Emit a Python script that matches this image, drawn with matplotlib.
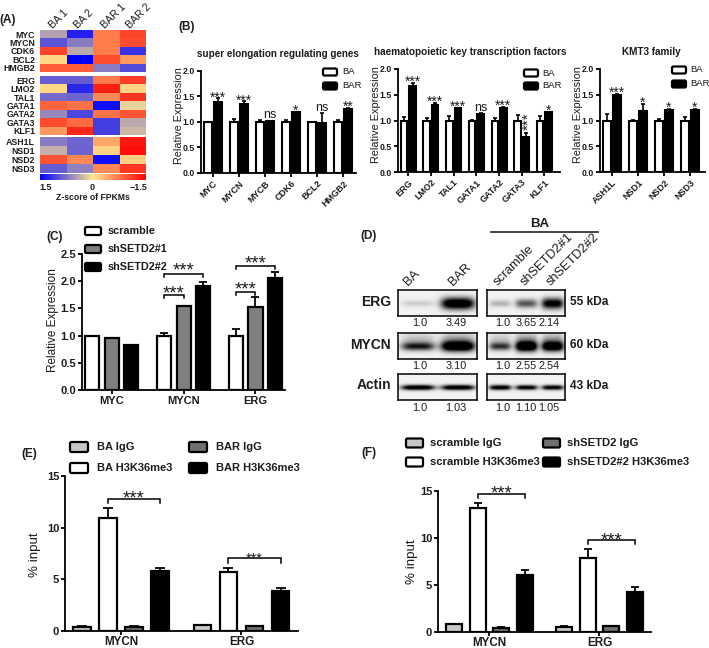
import numpy as np
import matplotlib
matplotlib.use("Agg")
import matplotlib.pyplot as plt
from matplotlib.colors import LinearSegmentedColormap, Normalize
from matplotlib.cm import ScalarMappable
from matplotlib.patches import FancyBboxPatch

plt.rcParams['font.family'] = ['Liberation Sans', 'DejaVu Sans']
W, H = 709, 648
INK = '#1c1c1c'

# ---------- data ----------
hm_samples = ['BA 1', 'BA 2', 'BAR 1', 'BAR 2']
hm_genes_1 = ['MYC', 'MYCN', 'CDK6', 'BCL2', 'HMGB2']
hm_vals_1 = [[0.45, 1.3, -0.7, -1.05],
             [0.95, 0.7, -0.7, -1.0],
             [-1.05, 0.4, -0.7, 1.15],
             [-0.1, 1.5, -1.0, -0.5],
             [-0.9, -0.9, 0.7, 1.0]]
hm_genes_2 = ['ERG', 'LMO2', 'TAL1', 'GATA1', 'GATA2', 'GATA3', 'KLF1']
hm_vals_2 = [[0.9, 0.9, -0.7, -1.1],
             [-0.1, 1.25, -1.3, -0.12],
             [0.8, 0.85, -0.6, -1.15],
             [-0.85, -0.75, 1.4, 0.12],
             [0.6, 1.05, -0.75, -0.95],
             [-1.0, -0.8, 1.1, 0.4],
             [-0.5, -1.25, 1.1, 0.3]]
hm_genes_3 = ['ASH1L', 'NSD1', 'NSD2', 'NSD3']
hm_vals_3 = [[0.7, 0.85, -0.4, -1.35],
             [0.35, 0.85, -0.12, -1.4],
             [-0.95, -0.6, 1.4, -0.15],
             [0.9, 0.65, -0.6, -1.15]]

b1_genes = ['MYC', 'MYCN', 'MYCB', 'CDK6', 'BCL2', 'HMGB2']
b1_ba = [1, 1, 1, 1, 1, 1]
b1_ba_err = [0.0, 0.05, 0.03, 0.03, 0.0, 0.03]
b1_bar = [1.38, 1.35, 1.01, 1.19, 0.97, 1.25]
b1_bar_err = [0.08, 0.05, 0.01, 0.01, 0.2, 0.02]
b1_sig = ['***', '***', 'ns', '*', 'ns', '**']

b2_genes = ['ERG', 'LMO2', 'TAL1', 'GATA1', 'GATA2', 'GATA3', 'KLF1']
b2_ba = [1, 1, 1, 1, 1, 1, 1]
b2_ba_err = [0.06, 0.04, 0.09, 0.01, 0.04, 0.1, 0.09]
b2_bar = [1.67, 1.31, 1.24, 1.13, 1.25, 0.67, 1.16]
b2_bar_err = [0.06, 0.03, 0.01, 0.01, 0.01, 0.08, 0.01]
b2_sig = ['***', '***', '***', 'ns', '***', '', '*']

b3_genes = ['ASH1L', 'NSD1', 'NSD2', 'NSD3']
b3_ba = [1, 1, 1, 1]
b3_ba_err = [0.13, 0.01, 0.02, 0.07]
b3_bar = [1.49, 1.19, 1.2, 1.21]
b3_bar_err = [0.03, 0.14, 0.02, 0.02]
b3_sig = ['***', '*', '*', '*']

c_genes = ['MYC', 'MYCN', 'ERG']
c_scramble = [1.0, 1.0, 1.0]
c_scramble_err = [0.0, 0.04, 0.12]
c_sh1 = [0.96, 1.54, 1.53]
c_sh1_err = [0.0, 0.01, 0.18]
c_sh2 = [0.83, 1.91, 2.05]
c_sh2_err = [0.0, 0.08, 0.11]

e_genes = ['MYCN', 'ERG']
e_ba_igg = [0.4, 0.55]
e_ba_igg_err = [0.05, 0.03]
e_ba_h3 = [10.9, 5.7]
e_ba_h3_err = [1.0, 0.35]
e_bar_igg = [0.4, 0.5]
e_bar_igg_err = [0.05, 0.03]
e_bar_h3 = [5.8, 3.9]
e_bar_h3_err = [0.3, 0.3]

f_genes = ['MYCN', 'ERG']
f_sc_igg = [0.8, 0.55]
f_sc_igg_err = [0.05, 0.05]
f_sc_h3 = [13.2, 7.9]
f_sc_h3_err = [0.5, 0.9]
f_sh_igg = [0.45, 0.6]
f_sh_igg_err = [0.05, 0.05]
f_sh_h3 = [6.1, 4.3]
f_sh_h3_err = [0.45, 0.5]

blot_left_erg = [0.12, 1.0]
blot_left_mycn = [0.62, 1.0]
blot_left_actin = [0.95, 0.95]
blot_right_erg = [0.2, 0.5, 0.85]
blot_right_mycn = [0.55, 1.0, 0.95]
blot_right_actin = [0.9, 0.85, 0.85]
ratio_left_erg = ['1.0', '3.49']
ratio_left_mycn = ['1.0', '3.10']
ratio_left_actin = ['1.0', '1.03']
ratio_right_erg = ['1.0', '3.65', '2.14']
ratio_right_mycn = ['1.0', '2.55', '2.54']
ratio_right_actin = ['1.0', '1.10', '1.05']

# ---------- helpers ----------
fig = plt.figure(figsize=(W / 100, H / 100), dpi=100, facecolor='white')
ov = fig.add_axes([0, 0, 1, 1], zorder=10)
ov.set_xlim(0, W)
ov.set_ylim(H, 0)
ov.axis('off')


def pxaxes(x0, y_top, x1, y_bot, **kw):
    return fig.add_axes([x0 / W, 1 - y_bot / H, (x1 - x0) / W, (y_bot - y_top) / H], **kw)


def T(x, y, s, size=7.5, weight='bold', ha='center', va='center', rot=0, color=INK, **kw):
    ov.text(x, y, s, fontsize=size, fontweight=weight, ha=ha, va=va, rotation=rot,
            color=color, **kw)


def swatch(x, y, w, h, fc, lw=1.6):
    ov.add_patch(FancyBboxPatch((x + 1.5, y + 1.5), w - 3, h - 3,
                                boxstyle='round,pad=1.5', fc=fc, ec='black', lw=lw))


def bar_panel(rect, first, spacing, step, width, series, errs, colors, lw, ymax, yticks,
              labels, ylabel, ytick_fmt, tick_size, xtick_size, label_size, rot=0, label_x=None,
              label_y=None):
    x0, y_top, x1, y_bot = rect
    ax = pxaxes(x0, y_top, x1, y_bot)
    n = len(series)
    mid = first + step * (n - 1) / 2
    ax.set_xlim((x0 - mid) / spacing, (x1 - mid) / spacing)
    ax.set_ylim(0, ymax)
    offs = (np.arange(n) - (n - 1) / 2) * step / spacing
    for j in range(n):
        xs = np.arange(len(labels)) + offs[j]
        ax.bar(xs, series[j], width / spacing, color=colors[j], edgecolor='black',
               linewidth=lw, zorder=3)
        ax.errorbar(xs, series[j], yerr=[np.zeros(len(labels)), errs[j]], fmt='none',
                    ecolor='black', elinewidth=lw * 0.8, capsize=width * 0.2, capthick=lw * 0.8,
                    zorder=2)
    for s in ['top', 'right']:
        ax.spines[s].set_visible(False)
    for s in ['left', 'bottom']:
        ax.spines[s].set_linewidth(1.3)
    ax.set_yticks(yticks)
    ax.set_yticklabels([ytick_fmt % t for t in yticks], fontsize=tick_size, fontweight='bold',
                       color=INK)
    ax.set_xticks(np.arange(len(labels)))
    if rot:
        ax.set_xticklabels(labels, fontsize=xtick_size, fontweight='bold', rotation=45, ha='right',
                           rotation_mode='anchor', color=INK)
    else:
        ax.set_xticklabels(labels, fontsize=xtick_size, fontweight='bold', color=INK)
    ax.tick_params(axis='both', width=1.3, length=3, pad=1.2)
    ax.patch.set_alpha(0)
    T(label_x, (y_top + y_bot) / 2 if label_y is None else label_y, ylabel, size=label_size,
      weight='normal', rot=90)
    ax._offs = offs
    return ax


def sig_marks(ax, xs, tops, sig, size=10):
    for x, t, s in zip(xs, tops, sig):
        if s == '':
            continue
        if s == 'ns':
            ax.text(x, t + 0.05, s, fontsize=9, ha='center', va='baseline', color=INK, zorder=5)
        else:
            ax.text(x, t - 0.06, s, fontsize=size, ha='center', va='baseline', color=INK, zorder=5)


def bracket(ax, g, a, b, y, drop, s, size=12, gap=0.0):
    xa = g + ax._offs[a]
    xb = g + ax._offs[b]
    ax.plot([xa, xa, xb, xb], [y - drop, y, y, y - drop], color='black', lw=1.1,
            clip_on=False, zorder=6, solid_joinstyle='miter')
    ax.text((xa + xb) / 2, y + gap, s, fontsize=size, ha='center', va='baseline', color=INK,
            clip_on=False, zorder=6)


# ---------- panel A ----------
cmap = LinearSegmentedColormap.from_list('hm', ['#ff0000', '#ffe68f', '#0000ff'])
norm = Normalize(vmin=-1.5, vmax=1.5)
blocks = [(hm_vals_1, hm_genes_1, 30, 72), (hm_vals_2, hm_genes_2, 76, 135),
          (hm_vals_3, hm_genes_3, 137, 173)]
for vals, genes, yt, yb in blocks:
    ax = pxaxes(40, yt, 146, yb)
    ax.pcolormesh(np.array(vals), cmap=cmap, norm=norm)
    ax.set_ylim(len(genes), 0)
    ax.set_xticks([])
    ax.set_yticks(np.arange(len(genes)) + 0.5)
    ax.set_yticklabels(genes, fontsize=6.3, fontweight='bold', color=INK)
    ax.tick_params(axis='y', length=0, pad=3.5)
    for s in ax.spines.values():
        s.set_visible(False)
for x, s in zip([53, 78, 105, 130], hm_samples):
    T(x, 29, s, size=7.6, weight='normal', ha='left', va='baseline', rot=45, rotation_mode='anchor')
cax = pxaxes(40, 174, 146, 180)
cb = fig.colorbar(ScalarMappable(norm=norm, cmap=cmap), cax=cax, orientation='horizontal')
cax.invert_xaxis()
cb.set_ticks([])
cb.outline.set_visible(False)
T(46, 187, '1.5', size=6.5)
T(92, 187, '0', size=6.5)
T(138, 187, '\u22121.5', size=6.5)
T(93, 198, 'Z-score of FPKMs', size=6.2)

# ---------- panel B ----------
WB = 'white'
ax = bar_panel((201, 70.7, 356, 173), 208, 26, 10, 7.5, [b1_ba, b1_bar], [b1_ba_err, b1_bar_err],
               [WB, 'black'], 1.5, 2.0, [0, .5, 1, 1.5, 2], b1_genes, 'Relative Expression',
               '%.1f', 6.3, 6.5, 7.8, rot=True, label_x=179, label_y=116)
sig_marks(ax, np.arange(6) + ax._offs[1],
          [max(a + b, c + d) for a, b, c, d in zip(b1_ba, b1_ba_err, b1_bar, b1_bar_err)], b1_sig)
ax = bar_panel((398, 69, 560, 172), 404, 22.7, 8.5, 6.5, [b2_ba, b2_bar], [b2_ba_err, b2_bar_err],
               [WB, 'black'], 1.5, 2.0, [0, .5, 1, 1.5, 2], b2_genes, 'Relative Expression',
               '%.1f', 6.3, 6.5, 7.8, rot=True, label_x=376, label_y=115)
sig_marks(ax, np.arange(7) + ax._offs[1],
          [max(a + b, c + d) for a, b, c, d in zip(b2_ba, b2_ba_err, b2_bar, b2_bar_err)], b2_sig)
ax.text(5 + ax._offs[1] + 0.13, 0.98, '***', fontsize=11, rotation=90, ha='center', va='center',
        color=INK, zorder=5)
ax = bar_panel((600, 69, 705, 172), 607, 26, 10, 7.5, [b3_ba, b3_bar], [b3_ba_err, b3_bar_err],
               [WB, 'black'], 1.5, 2.0, [0, .5, 1, 1.5, 2], b3_genes, 'Relative Expression',
               '%.1f', 6.3, 6.5, 7.8, rot=True, label_x=578, label_y=115)
sig_marks(ax, np.arange(4) + ax._offs[1],
          [max(a + b, c + d) for a, b, c, d in zip(b3_ba, b3_ba_err, b3_bar, b3_bar_err)], b3_sig)
T(278, 54, 'super elongation regulating genes', size=7.15)
T(470, 52, 'haematopoietic key transcription factors', size=7.2)
T(651, 52, 'KMT3 family', size=7.2)
for xs, xt, ys in [(323, 342, (72, 86)), (524, 542, (73, 86)), (672, 690, (70, 84))]:
    for y, c, lab in zip(ys, ['white', 'black'], ['BA', 'BAR']):
        swatch(xs, y - 3.5, 14, 7, c)
        T(xt, y, lab, size=6.8, weight='normal', ha='left')

# ---------- panel C ----------
ax = bar_panel((82, 254, 285, 390), 92, 72, 19.5, 14, [c_scramble, c_sh1, c_sh2],
               [c_scramble_err, c_sh1_err, c_sh2_err], ['white', '#7f7f7f', 'black'], 1.6,
               2.5, [0, .5, 1, 1.5, 2, 2.5], c_genes, 'Relative Expression', '%.1f', 8, 8,
               8.5, label_x=53, label_y=320)
bracket(ax, 1, 0, 1, 1.75, 0.06, '***', size=13.4, gap=-0.066)
bracket(ax, 1, 0, 2, 2.13, 0.06, '***', size=13.4, gap=-0.03)
bracket(ax, 2, 0, 1, 1.80, 0.05, '***', size=13.4, gap=-0.05)
bracket(ax, 2, 0, 2, 2.28, 0.06, '***', size=13.4, gap=-0.05)
for y, c, lab in zip([231, 249, 267], ['white', '#7f7f7f', 'black'],
                     ['scramble', 'shSETD2#1', 'shSETD2#2']):
    swatch(85, y - 4, 16, 8, c)
    T(108, y, lab, size=7.8, ha='left')


# ---------- panel D ----------
def blot(x0, yt, x1, yb, strengths, haze=0.0, thick=0.13):
    ax = pxaxes(x0, yt, x1, yb)
    h, w = 60, 180
    yy, xx = np.mgrid[0:1:h * 1j, 0:1:w * 1j]
    img = np.full((h, w), 0.95)
    n = len(strengths)
    for i, s in enumerate(strengths):
        cx = (i + 0.5) / n
        sx = 0.42 / n
        lane = np.exp(-((np.abs(xx - cx) / sx) ** 4))
        img -= 1.25 * s * lane * np.exp(-((yy - 0.52) / (thick * (0.55 + s * 0.6))) ** 2)
        if haze:
            img -= haze * s * lane * np.exp(-((yy - 0.3) / 0.3) ** 2)
    ax.imshow(np.clip(img, 0, 1), cmap='gray', vmin=0, vmax=1, aspect='auto',
              interpolation='bilinear')
    ax.set_xticks([])
    ax.set_yticks([])
    for s in ax.spines.values():
        s.set_linewidth(1.1)


rows = [(290, 316, blot_left_erg, blot_right_erg, 0.0, 0.2),
        (333, 359, blot_left_mycn, blot_right_mycn, 0.35, 0.17),
        (374, 400, blot_left_actin, blot_right_actin, 0.0, 0.09)]
for yt, yb, l, r, hz, th in rows:
    blot(398, yt, 477, yb, l, hz, th)
    blot(487, yt, 565, yb, r, hz, th)
for name, y in [('ERG', 302), ('MYCN', 345), ('Actin', 385)]:
    T(391, y, name, size=10, ha='right')
for kda, y in [('55 kDa', 302), ('60 kDa', 345), ('43 kDa', 386)]:
    T(570, y, kda, size=8.6, ha='left')
for y, l, r in [(323, ratio_left_erg, ratio_right_erg), (366, ratio_left_mycn, ratio_right_mycn),
                (408, ratio_left_actin, ratio_right_actin)]:
    for x, s in zip([420, 456], l):
        T(x, y, s, size=7.8, weight='normal')
    for x, s in zip([503, 526, 549], r):
        T(x, y, s, size=7.8, weight='normal')
for x, s in [(408, 'BA'), (453, 'BAR'), (498, 'scramble'), (525, 'shSETD2#1'), (551, 'shSETD2#2')]:
    T(x, 286, s, size=9.2, ha='left', va='baseline', rot=45, rotation_mode='anchor', weight='normal')
ov.plot([491, 598], [232, 232], color='#333333', lw=1.3)
T(540, 224, 'BA', size=9.5)

# ---------- panel E ----------
igg_l, igg_d = '#c8c8c8', '#707070'
ax = bar_panel((65, 476, 298, 631), 82, 120.5, 26, 17.5, [e_ba_igg, e_ba_h3, e_bar_igg, e_bar_h3],
               [e_ba_igg_err, e_ba_h3_err, e_bar_igg_err, e_bar_h3_err],
               [igg_l, 'white', igg_d, 'black'], 1.6, 15, [0, 5, 10, 15], e_genes, '% input', '%d',
               8, 8.4, 9.6, label_x=35, label_y=555)
ax.tick_params(axis='x', pad=0.3)
bracket(ax, 0, 1, 3, 12.8, 0.45, '***', size=13.4, gap=-0.45)
bracket(ax, 1, 1, 3, 7.05, 0.45, '***', size=10.5, gap=-0.42)
for x, y, c, lab in [(70, 447, igg_l, 'BA IgG'), (189, 447, igg_d, 'BAR IgG'),
                     (70, 468, 'white', 'BA H3K36me3'), (189, 468, 'black', 'BAR H3K36me3')]:
    swatch(x, y - 5, 18, 10, c)
    T(x + 27, y, lab, size=8, ha='left')

# ---------- panel F ----------
ax = bar_panel((438, 491, 651, 632), 454, 110, 23.6, 16, [f_sc_igg, f_sc_h3, f_sh_igg, f_sh_h3],
               [f_sc_igg_err, f_sc_h3_err, f_sh_igg_err, f_sh_h3_err],
               [igg_l, 'white', igg_d, 'black'], 1.6, 15, [0, 5, 10, 15], f_genes, '% input', '%d',
               8, 8.4, 9.6, label_x=412)
ax.tick_params(axis='x', pad=0.3)
bracket(ax, 0, 1, 3, 14.7, 0.45, '***', size=13.4, gap=-0.49)
bracket(ax, 1, 1, 3, 9.8, 0.45, '***', size=13.4, gap=-0.6)
for x, y, c, lab in [(406, 443, igg_l, 'scramble IgG'), (543, 443, igg_d, 'shSETD2 IgG'),
                     (406, 462, 'white', 'scramble H3K36me3'), (543, 462, 'black', 'shSETD2#2 H3K36me3')]:
    swatch(x, y - 4.5, 17, 9, c)
    T(x + 24, y, lab, size=8.1, ha='left')

# ---------- panel letters ----------
for s, x, y in [('(A)', 8, 20), ('(B)', 187, 27), ('(C)', 55, 237), ('(D)', 369, 236),
                ('(E)', 29, 454), ('(F)', 369, 453)]:
    T(x, y, s, size=8.5)

fig.savefig('out.png', dpi=100, facecolor='white')
